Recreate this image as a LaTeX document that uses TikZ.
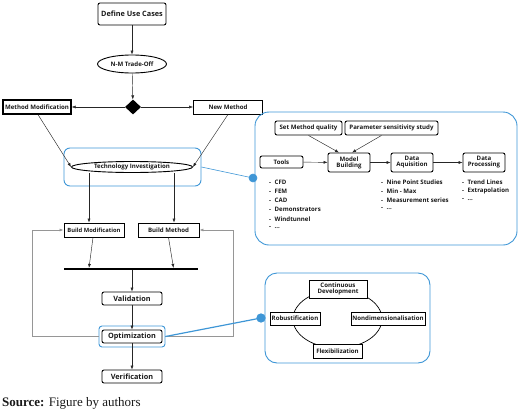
\documentclass[tikz,border=0pt]{standalone}
\usepackage{fontspec}
\setmainfont{Open Sans}
\newfontfamily\serif{Liberation Serif}
\usetikzlibrary{shapes.geometric,arrows.meta}
\definecolor{bl}{RGB}{62,150,214}
\definecolor{gr}{RGB}{150,150,150}
\newcommand{\fs}{\fontsize{6.1}{6.8}\selectfont\bfseries}
\newcommand{\fl}{\fontsize{7.3}{8}\selectfont\bfseries}
\begin{document}
\begin{tikzpicture}[x=1pt,y=-1pt,
  every node/.style={font=\fs, text=black!90},
  rbox/.style={draw, rounded corners=2pt, line width=0.9pt, inner sep=0.5pt, align=center},
  sbox/.style={draw, line width=0.9pt, inner sep=0.5pt, align=center},
  ell/.style={draw, ellipse, line width=0.9pt, inner sep=0pt},
  arr/.style={-{Latex[length=4pt,width=3pt]}, line width=0.45pt, black!85},
  garr/.style={-{Latex[length=4pt,width=3pt]}, line width=0.7pt, gr},
  bluebox/.style={draw=bl, rounded corners=6pt, line width=0.9pt},
  dotst/.style={circle, fill=bl, draw=bl, inner sep=0pt, minimum size=8pt},
  li/.style={anchor=west, inner sep=0pt, font=\fs}
]
\useasboundingbox (0,0) rectangle (520,410);
% main flow
\node[rbox, minimum width=68pt, minimum height=22pt, font=\fl] (duc) at (132,14) {Define Use Cases};
\node[ell, minimum width=69pt, minimum height=18pt] (nm) at (132,64) {N-M Trade-Off};
\node[diamond, fill=black, inner sep=0pt, minimum width=16pt, minimum height=15pt] (dia) at (133,107) {};
\node[sbox, line width=1.2pt, minimum width=68pt, minimum height=14pt] (mm) at (37,107) {Method Modification};
\node[sbox, minimum width=69pt, minimum height=14pt] (nw) at (228,107) {New Method};
\node[ell, minimum width=121pt, minimum height=11pt] (ti) at (132,167) {Technology Investigation};
\node[bluebox, minimum width=137pt, minimum height=38pt] (tib) at (132.5,167) {};
\draw[arr] (duc) -- (nm);
\draw[arr] (nm) -- (dia);
\draw[arr] (dia) -- (mm);
\draw[arr] (dia) -- (nw);
\draw[arr] ([xshift=1pt]mm.south) -- (ti.west);
\draw[arr] (nw.south) -- (ti.east);

\node[sbox, minimum width=60pt, minimum height=14pt, font=\fontsize{5.8}{6.5}\selectfont\bfseries] (bmod) at (94,230) {Build Modification};
\node[sbox, minimum width=61pt, minimum height=14pt] (bm) at (168.5,230) {Build Method};
\draw[arr] ([xshift=-5pt]bmod.north |- ti.south) -- ([xshift=-5pt]bmod.north);
\draw[arr] ([xshift=5.5pt]bm.north |- ti.south) -- ([xshift=5.5pt]bm.north);
\node[fill=black, inner sep=0pt, minimum width=134pt, minimum height=1.8pt] (bar) at (131,269) {};
\draw[arr] ([xshift=-1pt]bmod.south) -- ([xshift=-5pt]bmod.south |- bar.north);
\draw[arr] (bm.south) -- ([xshift=5pt]bm.south |- bar.north);

\node[rbox, minimum width=60pt, minimum height=13pt, font=\fl] (val) at (132,298.5) {Validation};
\node[rbox, minimum width=60pt, minimum height=13pt, font=\fl] (opt) at (132,336.5) {Optimization};
\node[bluebox, rounded corners=3pt, minimum width=66pt, minimum height=21pt] (optb) at (132,336.5) {};
\node[rbox, minimum width=60pt, minimum height=13pt, font=\fl] (ver) at (132,376.5) {Verification};
\draw[arr] (bar.south -| val.north) -- (val.north);
\draw[arr] (val) -- (opt);
\draw[arr] (opt) -- (ver);
\coordinate (lc) at (32,230);
\coordinate (rc) at (233,230);
\draw[garr] (optb.west) -| (lc) -- (bmod.west);
\draw[garr] (optb.east) -| (rc) -- (bm.east);

% panel 1
\node[bluebox, rounded corners=14pt, minimum width=262pt, minimum height=133pt] (p1) at (386,178.5) {};
\draw[bl, line width=0.6pt] (tib.east) -- (253,178) node[dotst] (d1) {};
\node[rbox, minimum width=67pt, minimum height=14pt] (smq) at (308.5,128) {Set Method quality};
\node[rbox, minimum width=93pt, minimum height=14pt] (pss) at (391.5,128) {Parameter sensitivity study};
\node[rbox, minimum width=43pt, minimum height=12pt] (tools) at (281.5,162) {Tools};
\node[rbox, minimum width=42pt, minimum height=19pt] (mb) at (349,162.5) {Model\\[-0.8pt]Building};
\node[rbox, minimum width=42pt, minimum height=19pt] (da) at (412,162.5) {Data\\[-0.8pt]Aquisition};
\node[rbox, minimum width=42pt, minimum height=19pt] (dp) at (484,162.5) {Data\\[-0.8pt]Processing};
\draw[arr] (tools) -- (mb);
\draw[arr] (mb) -- (da);
\draw[arr] (da) -- (dp);
\draw[arr] (smq.south) -- ([xshift=-10pt]mb.north);
\draw[arr] ([xshift=-10pt]pss.south) -- ([xshift=3pt]mb.north);
\node[li] (tl1) at (269,182) {-\hspace{3.5pt}CFD};
\node[li] (tl2) at (269,191.2) {-\hspace{3.5pt}FEM};
\node[li] (tl3) at (269,200.4) {-\hspace{3.5pt}CAD};
\node[li] (tl4) at (269,209.6) {-\hspace{3.5pt}Demonstrators};
\node[li] (tl5) at (269,218.8) {-\hspace{3.5pt}Windtunnel};
\node[li] (tl6) at (269,228) {-\hspace{3.5pt}...};
\node[li] (al1) at (381,182) {-\hspace{3.5pt}Nine Point Studies};
\node[li] (al2) at (381,191) {-\hspace{3.5pt}Min - Max};
\node[li] (al3) at (381,200) {-\hspace{3.5pt}Measurement series};
\node[li] (al4) at (381,209) {-\hspace{3.5pt}...};
\node[li] (pl1) at (462,182) {-\hspace{3.5pt}Trend Lines};
\node[li] (pl2) at (462,191) {-\hspace{3.5pt}Extrapolation};
\node[li] (pl3) at (462,200) {-\hspace{3.5pt}...};

% panel 2
\node[bluebox, rounded corners=12pt, minimum width=165pt, minimum height=90pt] (p2) at (347.5,318) {};
\draw[bl, line width=1.2pt] (optb.east) -- (261,318) node[dotst] (d2) {};
\node[draw, ellipse, line width=0.7pt, minimum width=89pt, minimum height=58pt] (ring) at (337.5,319) {};
\node[sbox, fill=white, minimum width=58pt, minimum height=18pt] (cd) at (338,289) {Continuous\\[-0.8pt]Development};
\node[sbox, fill=white, minimum width=50pt, minimum height=13pt] (rob) at (295,318.5) {Robustification};
\node[sbox, fill=white, minimum width=74pt, minimum height=13pt] (nd) at (388,318.5) {Nondimensionalisation};
\node[sbox, fill=white, minimum width=49pt, minimum height=14pt] (flex) at (337.5,351) {Flexibilization};

% source
\node[anchor=base west, inner sep=0pt, font=\serif\fontsize{13}{15}\selectfont] (src) at (2,406) {\textbf{Source:} Figure by authors};
\end{tikzpicture}
\end{document}
